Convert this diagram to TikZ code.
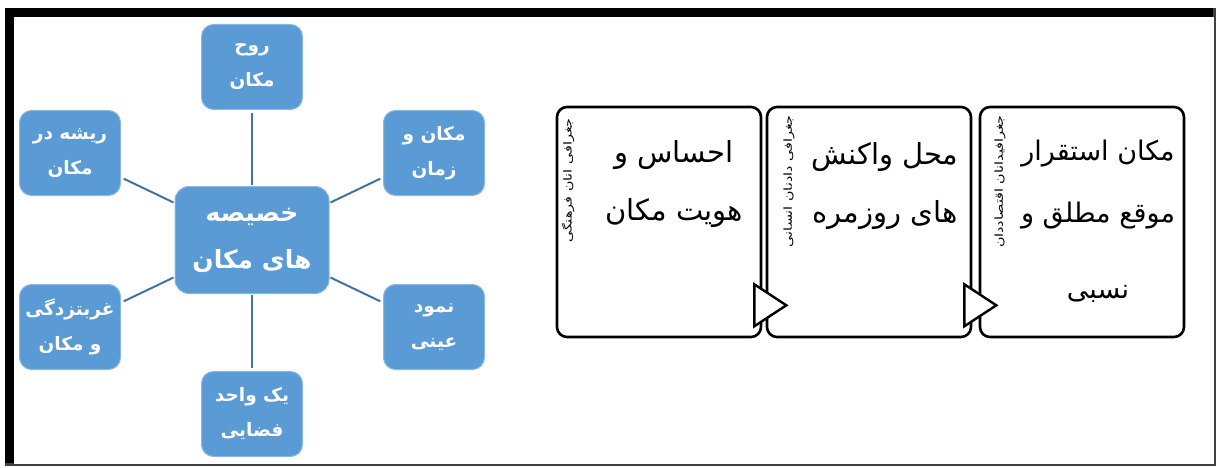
\documentclass[tikz,border=0pt]{standalone}
\usepackage{fontspec}
\newfontfamily\arabicfont[Script=Arabic]{DejaVu Sans}
\TeXXeTstate=1
\newcommand{\rl}[1]{\beginR #1\endR}
\newcommand{\sidelabel}[1]{\scalebox{1.3}[1]{\beginR #1\endR}}
\definecolor{spokefill}{HTML}{5B9BD5}
\definecolor{spokeline}{HTML}{44739F}
\tikzset{
  hub/.style={rectangle,rounded corners=14pt,fill=spokefill,draw=spokefill!70!white,
    line width=1pt,minimum width=154pt,minimum height=107pt,align=center,text=white,
    font={\arabicfont\bfseries\fontsize{25}{47}\selectfont}},
  spoke/.style={rectangle,rounded corners=12pt,fill=spokefill,draw=spokefill!70!white,
    line width=1pt,minimum width=101pt,minimum height=85pt,align=center,text=white,
    font={\arabicfont\bfseries\fontsize{18.5}{35}\selectfont}},
  link/.style={spokeline,line width=2pt,shorten <=1pt,shorten >=3pt},
  procbox/.style={rectangle,rounded corners=10pt,draw=black,line width=2.6pt,fill=white,
    minimum width=204pt,minimum height=230pt},
  bigtext/.style={align=center,font={\arabicfont\fontsize{29}{58}\selectfont}},
  sidetext/.style={rotate=90,anchor=east,inner sep=0pt,font={\arabicfont\fontsize{11}{12}\selectfont}},
  flowtip/.style={draw=black,line width=2.4pt,fill=white,line join=miter}
}
\begin{document}
\begin{tikzpicture}[x=1pt,y=-1pt]
  \useasboundingbox (0,0) rectangle (1218,468);
  % frame
  \fill[black!75] (5,8) rectangle (1216,466);
  \fill[black] (5,8) rectangle (1213,463);
  \fill[white] (14,17) rectangle (1214,464);

  % left: radial diagram
  \node[hub] (hub) at (252,240) {\rl{خصیصه}\\\rl{های مکان}};
  \foreach \nm/\x/\y/\ta/\tb in {
      ruh/252/67/روح/مکان,
      risheh/70/153/ریشه در/مکان,
      zaman/434/153/مکان و/زمان,
      gharb/70/327/غربتزدگی/و مکان,
      namud/434/327/نمود/عینی,
      vahed/252/414/یک واحد/فضایی} {%
    \node[spoke] (\nm) at (\x,\y) {\rl{\ta}\\\rl{\tb}};
    \draw[link] (hub) -- (\nm);
  }

  % right: process boxes
  \node[procbox] (b1) at (659,222) {};
  \node[procbox] (b2) at (869,222) {};
  \node[procbox] (b3) at (1082,222) {};
  \node[bigtext] (t1) at (674,184) {\rl{احساس و}\\\rl{هویت مکان}};
  \node[bigtext] (t2) at (885,186) {\rl{محل واکنش}\\\rl{های روزمره}};
  \node[bigtext,font={\arabicfont\fontsize{27}{62}\selectfont}] (t3) at (1098,221)
    {\rl{مکان استقرار}\\\rl{موقع مطلق و}\\[14pt]\rl{نسبی}};
  \node[sidetext] (s1) at (568,118) {\sidelabel{جغرافی انان فرهنگی}};
  \node[sidetext] (s2) at (789,115) {\sidelabel{جغرافی دادنان انسانی}};
  \node[sidetext] (s3) at (1000,115) {\sidelabel{جغرافیدانان اقتصاددان}};
  \foreach \bx in {b1,b2} {%
    \draw[flowtip] ([shift={(-8,-54)}]\bx.south east) -- ([shift={(24,-33)}]\bx.south east)
      -- ([shift={(-8,-12)}]\bx.south east) -- cycle;
  }
\end{tikzpicture}
\end{document}
